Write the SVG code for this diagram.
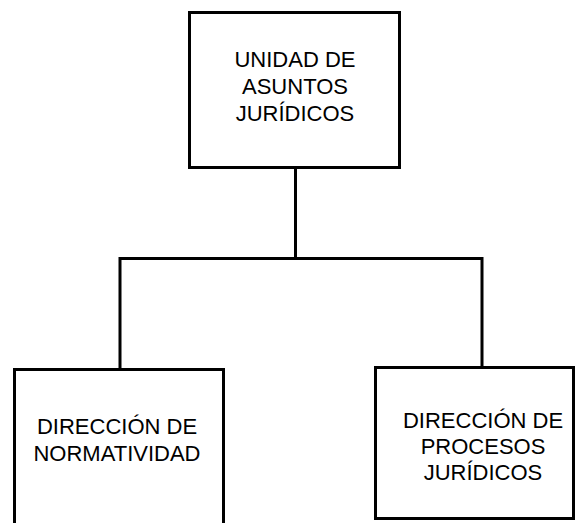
<svg xmlns="http://www.w3.org/2000/svg" width="576" height="523" viewBox="0 0 576 523">
<style>
.box{fill:#fff;stroke:#000;stroke-width:3}
.ln{fill:none;stroke:#000;stroke-width:3}
.t{font-family:"Liberation Sans",Arial,sans-serif;font-size:22px;fill:#000;text-anchor:middle}
</style>
<rect width="576" height="523" fill="#fff"/>
<g id="connectors">
<path class="ln" d="M295.5 167V258.5M120 370V258.5H482V368"/>
</g>
<g id="unidad">
<rect class="box" x="189.5" y="12.5" width="210" height="155"/>
<text class="t" x="295" y="66.5">UNIDAD DE</text>
<text class="t" x="295" y="93.5">ASUNTOS</text>
<text class="t" x="295" y="120.5">JURÍDICOS</text>
</g>
<g id="normatividad">
<rect class="box" x="14.5" y="369.5" width="209" height="160"/>
<text class="t" x="117" y="434">DIRECCIÓN DE</text>
<text class="t" x="117" y="461">NORMATIVIDAD</text>
</g>
<g id="procesos">
<rect class="box" x="375.5" y="367.5" width="198" height="151"/>
<text class="t" x="483" y="427.5">DIRECCIÓN DE</text>
<text class="t" x="483" y="454">PROCESOS</text>
<text class="t" x="483" y="480">JURÍDICOS</text>
</g>
</svg>
